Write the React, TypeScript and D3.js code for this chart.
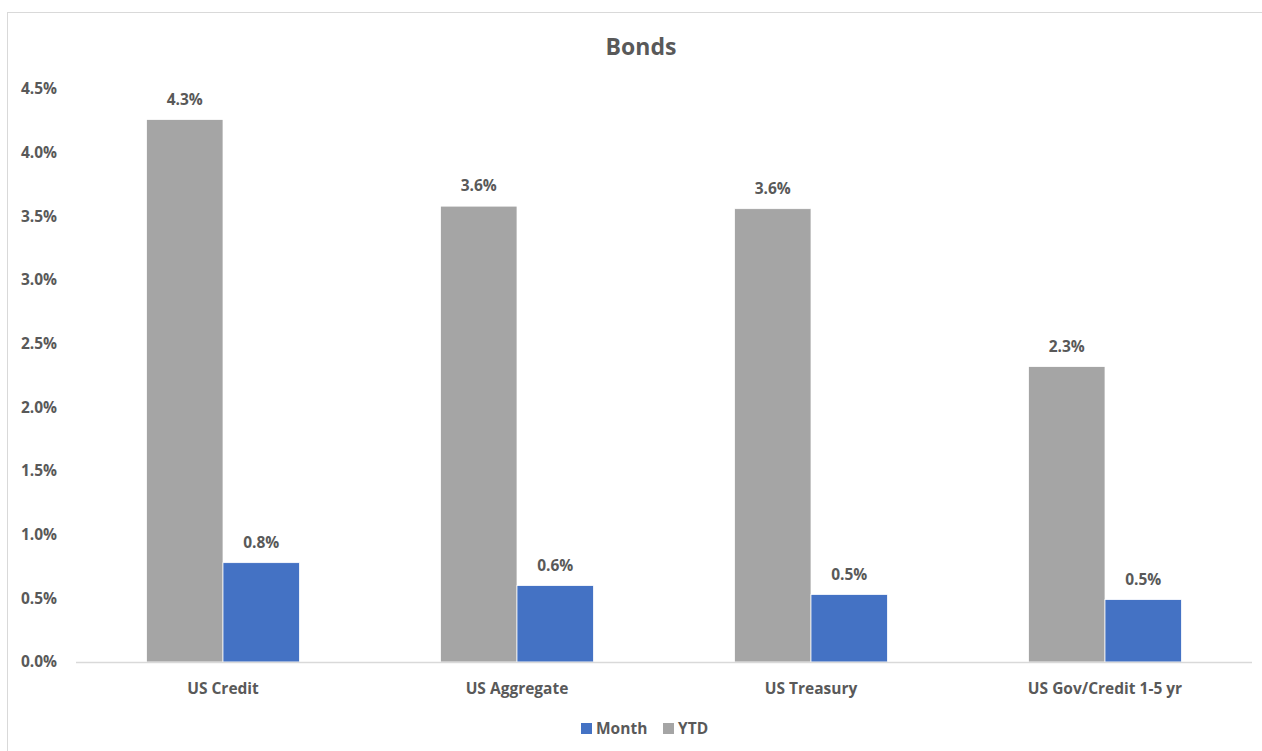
import React from "react";
import * as d3 from "d3";

const categories = ["US Credit", "US Aggregate", "US Treasury", "US Gov/Credit 1-5 yr"];
const monthValues = [0.78, 0.6, 0.53, 0.49];
const ytdValues = [4.26, 3.58, 3.56, 2.32];
const yTicks = [0, 0.5, 1, 1.5, 2, 2.5, 3, 3.5, 4, 4.5];
const seriesNames = ["Month", "YTD"];
const seriesColors = ["#4472C4", "#A5A5A5"];

const W = 1262;
const H = 751;
const margin = { left: 76, right: 10, top: 89, bottom: 89 };
const FONT = "'Open Sans', Lato, sans-serif";
const TEXT = "#595959";
const FS = 15.5;

export default function App() {
  const x0 = d3
    .scaleBand<string>()
    .domain(categories)
    .range([margin.left, W - margin.right])
    .paddingInner(0.48)
    .paddingOuter(0.24);
  const x1 = d3.scaleBand<string>().domain(["YTD", "Month"]).range([0, x0.bandwidth()]).padding(0);
  const y = d3.scaleLinear().domain([0, 4.5]).range([H - margin.bottom, margin.top]);

  const fmt = (v: number) => `${v.toFixed(1)}%`;
  const series = [
    { key: "YTD", values: ytdValues, color: seriesColors[1] },
    { key: "Month", values: monthValues, color: seriesColors[0] },
  ];

  return (
    <svg
      width={W}
      height={H}
      style={{ position: "absolute", left: 0, top: 0, display: "block", background: "#fff" }}
      fontFamily={FONT}
    >
      <rect x={7.5} y={12.5} width={W + 10} height={H + 10} fill="#fff" stroke="#d9d9d9" />
      <text x={641} y={55} textAnchor="middle" fontSize={23} fontWeight="bold" fill={TEXT}>
        Bonds
      </text>

      {yTicks.map((t) => (
        <text
          key={t}
          x={57}
          y={y(t)}
          dy="0.35em"
          textAnchor="end"
          fontSize={FS}
          fontWeight="bold"
          fill={TEXT}
        >
          {fmt(t)}
        </text>
      ))}

      {categories.map((c, i) => (
        <g key={c}>
          {series.map((s) => {
            const bx = (x0(c) as number) + (x1(s.key) as number);
            const v = s.values[i];
            return (
              <g key={s.key}>
                <rect
                  x={bx}
                  y={y(v)}
                  width={x1.bandwidth()}
                  height={y(0) - y(v)}
                  fill={s.color}
                  stroke="#fff"
                  strokeWidth={0.75}
                />
                <text
                  x={bx + x1.bandwidth() / 2}
                  y={y(v) - 15}
                  textAnchor="middle"
                  fontSize={FS}
                  fontWeight="bold"
                  fill={TEXT}
                >
                  {fmt(v)}
                </text>
              </g>
            );
          })}
          <text
            x={(x0(c) as number) + x0.bandwidth() / 2}
            y={694}
            textAnchor="middle"
            fontSize={FS}
            fontWeight="bold"
            fill={TEXT}
          >
            {c}
          </text>
        </g>
      ))}

      <line x1={margin.left} x2={W - margin.right} y1={y(0) + 0.5} y2={y(0) + 0.5} stroke="#d9d9d9" strokeWidth={1.5} />

      <g transform="translate(581,723)">
        {seriesNames.map((n, i) => (
          <g key={n} transform={`translate(${i === 0 ? 0 : 82},0)`}>
            <rect x={0} y={0} width={11} height={11} fill={seriesColors[i]} />
            <text x={15} y={11} fontSize={FS} fontWeight="bold" fill={TEXT}>
              {n}
            </text>
          </g>
        ))}
      </g>
    </svg>
  );
}
